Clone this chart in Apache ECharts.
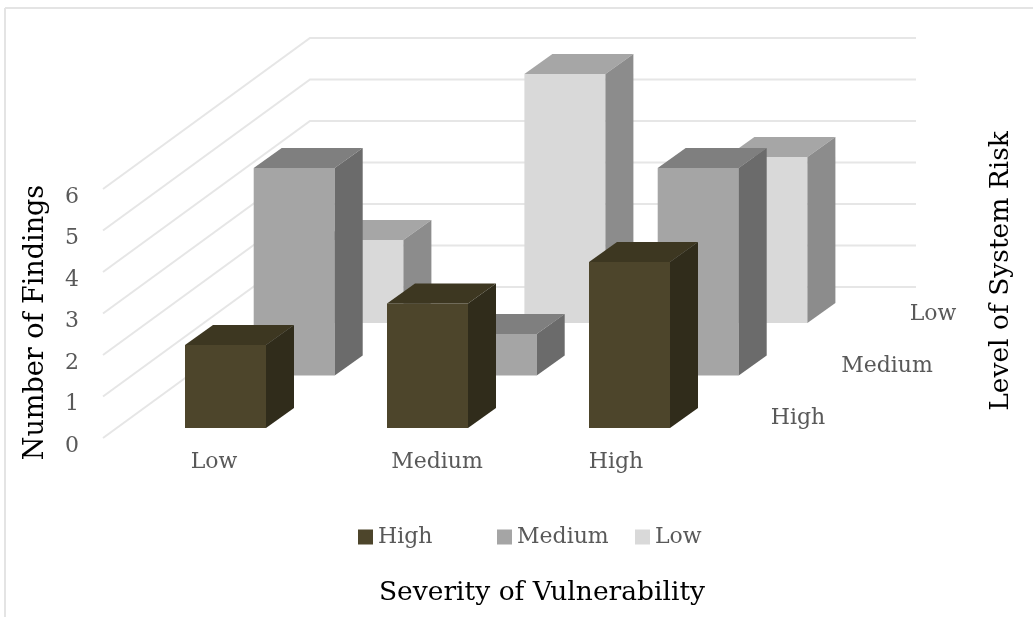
<!DOCTYPE html>
<html><head><meta charset="utf-8">
<style>html,body{margin:0;padding:0;background:#fff}#c{width:1033px;height:617px}</style>
<script src="https://cdn.jsdelivr.net/npm/echarts@6/dist/echarts.min.js"></script>
</head><body><div id="c"></div>
<script>
const categories = ['Low', 'Medium', 'High'];
const lowRisk = [2, 6, 4];
const mediumRisk = [5, 1, 5];
const highRisk = [2, 3, 4];
const valueTicks = [0, 1, 2, 3, 4, 5, 6];
const depthLabels = ['Low', 'Medium', 'High'];

const FONT = 'DejaVu Serif';
const GREY = '#595959';
const wall = { dx: 207, dy: -151 };
const bar = { w: 81, sideX: 28, sideY: -20, inset: 21.5, lift: 10, stepX: 68.7, stepY: 52.5 };
const palette = {
  High: { front: '#4d452b', top: '#3d3721', side: '#302c1b' },
  Medium: { front: '#a5a5a5', top: '#7f7f7f', side: '#6b6b6b' },
  Low: { front: '#d9d9d9', top: '#a6a6a6', side: '#8c8c8c' }
};

function poly(points, fill) {
  return { type: 'polygon', shape: { points }, style: { fill, stroke: null }, silent: true };
}
function barSeries(name, values, depth) {
  const c = palette[name];
  return {
    type: 'custom', name, coordinateSystem: 'cartesian2d', silent: true,
    itemStyle: { color: c.front },
    data: values.map((v, i) => [i, v]),
    renderItem(params, api) {
      const topPt = api.coord([api.value(0), api.value(1)]);
      const basePt = api.coord([api.value(0), 0]);
      const x = topPt[0] + bar.inset + depth * bar.stepX - bar.w / 2;
      const shift = bar.lift + depth * bar.stepY;
      const yT = topPt[1] - shift, yB = basePt[1] - shift;
      const r = x + bar.w;
      const sx = bar.sideX, sy = bar.sideY;
      return { type: 'group', children: [
        poly([[x, yT], [r, yT], [r, yB], [x, yB]], c.front),
        poly([[x, yT], [x + sx, yT + sy], [r + sx, yT + sy], [r, yT]], c.top),
        poly([[r, yT], [r + sx, yT + sy], [r + sx, yB + sy], [r, yB]], c.side)
      ] };
    }
  };
}
const gridSeries = {
  type: 'custom', name: 'walls', coordinateSystem: 'cartesian2d', silent: true,
  data: valueTicks.map(v => [0, v]),
  renderItem(params, api) {
    const y = api.coord([0, api.value(1)])[1];
    const g = params.coordSys;
    return { type: 'polyline', silent: true,
      shape: { points: [[g.x, y], [g.x + wall.dx, y + wall.dy], [g.x + g.width + wall.dx, y + wall.dy]] },
      style: { stroke: '#e6e6e6', lineWidth: 2, fill: null } };
  }
};
function legendAt(name, left) {
  return { data: [name], left, top: 526, padding: 0, icon: 'rect', itemWidth: 15, itemHeight: 15, itemGap: 0,
    selectedMode: false, textStyle: { fontFamily: FONT, fontSize: 22, color: GREY } };
}
const labelPad = { Low: 20, Medium: 62, High: 16 };
const depthPos = [[933, 314], [887, 366], [798, 418]];

const chart = echarts.init(document.getElementById('c'), null, { renderer: 'canvas' });
chart.setOption({
  animation: false,
  backgroundColor: '#fff',
  grid: { left: 103, top: 189, width: 606, height: 249 },
  xAxis: {
    type: 'category', data: categories,
    axisLine: { show: false }, axisTick: { show: false }, splitLine: { show: false },
    axisLabel: {
      interval: 0, hideOverlap: false, margin: 13, color: GREY, fontFamily: FONT, fontSize: 22,
      formatter: v => '{' + v + '|' + v + '}',
      rich: Object.fromEntries(Object.entries(labelPad).map(([k, p]) =>
        [k, { padding: [0, 0, 0, p], fontFamily: FONT, fontSize: 22, color: GREY }]))
    },
    name: 'Severity of Vulnerability', nameLocation: 'middle', nameGap: 142,
    nameTextStyle: { fontFamily: FONT, fontSize: 26.5, color: '#000', padding: [0, 0, 0, 272] }
  },
  yAxis: {
    type: 'value', min: 0, max: 6, interval: 1,
    axisLine: { show: false }, axisTick: { show: false }, splitLine: { show: false },
    axisLabel: { margin: 24, color: GREY, fontFamily: FONT, fontSize: 22, verticalAlign: 'top', lineHeight: 16 },
    name: 'Number of Findings', nameLocation: 'middle', nameRotate: 90, nameGap: 54,
    nameTextStyle: { fontFamily: FONT, fontSize: 27, color: '#000', padding: [0, 18, 0, 0] }
  },
  legend: [legendAt('High', 358), legendAt('Medium', 497), legendAt('Low', 635)],
  graphic: [
    { type: 'line', silent: true, shape: { x1: 5, y1: 8, x2: 1033, y2: 8 }, style: { stroke: '#e4e4e4', lineWidth: 2 } },
    { type: 'line', silent: true, shape: { x1: 5, y1: 8, x2: 5, y2: 617 }, style: { stroke: '#e4e4e4', lineWidth: 2 } },
    ...depthLabels.map((t, i) => ({ type: 'text', silent: true, x: depthPos[i][0], y: depthPos[i][1],
      style: { text: t, fontFamily: FONT, fontSize: 22, fill: GREY, align: 'center', verticalAlign: 'middle' } })),
    { type: 'text', silent: true, x: 1001, y: 271, rotation: Math.PI / 2,
      style: { text: 'Level of System Risk', fontFamily: FONT, fontSize: 26.5, fill: '#000', align: 'center', verticalAlign: 'middle' } }
  ],
  series: [gridSeries, barSeries('Low', lowRisk, 2), barSeries('Medium', mediumRisk, 1), barSeries('High', highRisk, 0)]
});
</script></body></html>
